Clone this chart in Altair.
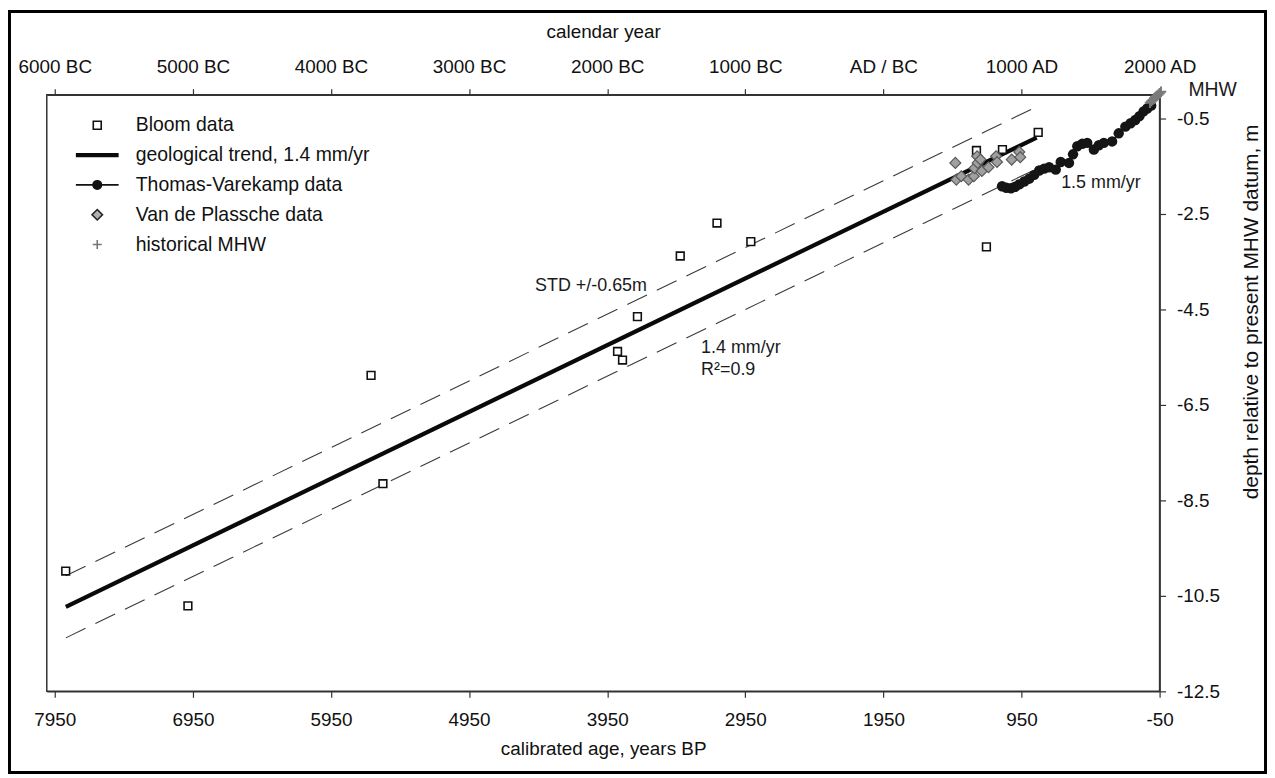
import altair as alt
import pandas as pd

FONT = "Liberation Sans"

# ---------------- data ----------------
bloom_bp = [7871, 6986, 5660, 5574, 3875, 3839, 3731, 3421, 3155, 2910, 1204, 1276, 1088, 829]
bloom_depth = [-9.98, -10.71, -5.88, -8.15, -5.38, -5.56, -4.65, -3.38, -2.69, -3.08, -3.19, -1.17, -1.15, -0.79]

trend_bp = [7870, 840]
trend_depth = [-10.73, -0.90]

std_bp = [7870, 810]
std_upper = [-10.08, -0.21]
std_lower = [-11.38, -1.51]

tv_bp = [1091, 1060, 1026, 996, 966, 930, 894, 858, 822, 786, 750, 702, 666, 606, 577, 546, 510, 474,
         426, 390, 354, 294, 246, 198, 160, 126, 96, 66, 40, 11]
tv_depth = [-1.92, -1.95, -1.96, -1.93, -1.88, -1.82, -1.76, -1.68, -1.59, -1.55, -1.52, -1.57, -1.41,
            -1.43, -1.25, -1.08, -1.03, -1.01, -1.15, -1.06, -1.01, -0.98, -0.81, -0.67, -0.60, -0.53,
            -0.45, -0.35, -0.29, -0.23]

vdp_bp = [1429, 1422, 1386, 1333, 1295, 1290, 1271, 1267, 1247, 1237, 1189, 1134, 1127, 1021, 966, 959]
vdp_depth = [-1.43, -1.78, -1.71, -1.78, -1.71, -1.54, -1.29, -1.43, -1.36, -1.60, -1.52, -1.29, -1.41,
             -1.36, -1.20, -1.31]

hist_bp = [20, 10, 0, -10, -20, -30, -40, -50, -60]
hist_depth = [-0.17, -0.14, -0.11, -0.08, -0.05, -0.03, 0.0, 0.03, 0.06]

ann_text = ["STD +/-0.65m", "1.4 mm/yr", "R\u00b2=0.9", "1.5 mm/yr"]
ann_bp = [4472, 3270, 3270, 663]
ann_depth = [-4.0, -5.31, -5.77, -1.85]

mhw_text = ["MHW"]
mhw_bp = [-50]
mhw_depth = [0.0]

bp_ticks = [7950, 6950, 5950, 4950, 3950, 2950, 1950, 950, -50]
cal_labels = ["6000 BC", "5000 BC", "4000 BC", "3000 BC", "2000 BC", "1000 BC", "AD / BC", "1000 AD", "2000 AD"]
depth_ticks = [-0.5, -2.5, -4.5, -6.5, -8.5, -10.5, -12.5]

series_names = ["Bloom data", "geological trend, 1.4 mm/yr", "Thomas-Varekamp data",
                "Van de Plassche data", "historical MHW"]
legend_shapes = [
    "M-0.8,-0.8H0.8V0.8H-0.8Z",
    "M-4.3,-0.42H4.3V0.42H-4.3Z",
    "M-4.3,0H4.3M-0.85,0A0.85,0.85,0,1,1,0.85,0A0.85,0.85,0,1,1,-0.85,0Z",
    "M0,-1.05L1.05,0L0,1.05L-1.05,0Z",
    "M-0.9,0H0.9M0,-0.9V0.9",
]
legend_fill = ["white", "#0a0a0a", "#111111", "#b0b0b0", "transparent"]
legend_stroke = ["#111111", "transparent", "#111111", "#222222", "#777777"]


# ---------------- helpers ----------------
def chain_expr(keys, vals, default):
    parts = [f"datum.value == {k} ? '{v}'" for k, v in zip(keys, vals)]
    return " : ".join(parts) + f" : {default}"


cal_expr = chain_expr(bp_ticks, cal_labels, "''")

x_scale = alt.Scale(domain=[-50, 8008], reverse=True, nice=False, zero=False)
y_scale = alt.Scale(domain=[-12.5, 0], nice=False, zero=False)

bottom_axis = alt.Axis(orient="bottom", values=bp_ticks, labelExpr="'' + datum.value",
                       title="calibrated age, years BP", labelPadding=13, titlePadding=11)
top_axis = alt.Axis(orient="top", values=bp_ticks, labelExpr=cal_expr, title="calendar year",
                    labelPadding=12, titlePadding=16)
right_axis = alt.Axis(orient="right", values=depth_ticks, labelExpr="'' + datum.value",
                      title="depth relative to present MHW datum, m", labelPadding=11,
                      titleFontSize=21, titleAngle=270, titleX=92, titleY=218,
                      titleAlign="center", titleBaseline="middle")


def X(axis=None):
    return alt.X("bp:Q", scale=x_scale, axis=axis)


def Y(axis=None):
    return alt.Y("depth:Q", scale=y_scale, axis=axis)


# ---------------- tables ----------------
df_std = pd.DataFrame({"bp": std_bp + std_bp, "depth": std_upper + std_lower,
                       "band": ["upper"] * len(std_bp) + ["lower"] * len(std_bp)})
df_trend = pd.DataFrame({"bp": trend_bp, "depth": trend_depth})
df_bloom = pd.DataFrame({"bp": bloom_bp, "depth": bloom_depth})
df_tv = pd.DataFrame({"bp": tv_bp, "depth": tv_depth, "order": list(range(len(tv_bp)))})
df_vdp = pd.DataFrame({"bp": vdp_bp, "depth": vdp_depth})
df_hist = pd.DataFrame({"bp": hist_bp, "depth": hist_depth})
df_ann = pd.DataFrame({"bp": ann_bp, "depth": ann_depth, "text": ann_text})
df_mhw = pd.DataFrame({"bp": mhw_bp, "depth": mhw_depth, "text": mhw_text})
df_legend = pd.DataFrame({"series": pd.Series([], dtype="object")})

# ---------------- layers ----------------
W, H = 1119, 600
PAD = {"left": 39, "top": 85, "right": 108, "bottom": 83}

border = alt.Chart(pd.DataFrame({"k": [0]})).mark_rect(
    fill="transparent", stroke="black", strokeWidth=3
).encode(
    x=alt.value(-PAD["left"] + 1.5), x2=alt.value(W + PAD["right"] - 1.5),
    y=alt.value(-PAD["top"] + 1.5), y2=alt.value(H + PAD["bottom"] - 1.5)
)

dashed = alt.Chart(df_std).mark_line(color="#3a3a3a", strokeWidth=1.1, strokeDash=[22, 11]).encode(
    x=X(bottom_axis), y=Y(right_axis), detail="band:N"
)

trend = alt.Chart(df_trend).mark_line(color="#0a0a0a", strokeWidth=4.2).encode(x=X(), y=Y())

bloom = alt.Chart(df_bloom).mark_point(
    shape="square", filled=True, fill="white", stroke="#111111", strokeWidth=1.6, size=60, opacity=1
).encode(x=X(), y=Y())

vdp = alt.Chart(df_vdp).mark_point(
    shape="diamond", filled=True, fill="#a0a0a0", stroke="#5a5a5a", strokeWidth=1.2, size=121, opacity=1
).encode(x=X(), y=Y())

tv_line = alt.Chart(df_tv).mark_line(color="#111111", strokeWidth=1.5).encode(x=X(), y=Y(), order="order:Q")

tv_pts = alt.Chart(df_tv).mark_point(
    shape="circle", filled=True, color="#151515", size=110, opacity=1
).encode(x=X(), y=Y())

hist = alt.Chart(df_hist).mark_point(
    shape="M-1,0H1M0,-1V1", filled=False, stroke="#7a7a7a", strokeWidth=2, size=110, opacity=1
).encode(x=X(), y=Y())

ann = alt.Chart(df_ann).mark_text(
    align="left", baseline="middle", font=FONT, fontSize=18, color="#1a1a1a"
).encode(x=X(top_axis), y=Y(), text="text:N")

mhw = alt.Chart(df_mhw).mark_text(
    align="left", baseline="middle", font=FONT, fontSize=19.5, color="#1a1a1a", dx=29, dy=-5
).encode(x=X(), y=Y(), text="text:N")


def make_legend():
    return alt.Legend(
        title=None, orient="none", legendX=41, legendY=21, labelOffset=29, rowPadding=9,
        symbolSize=100, symbolStrokeWidth=1.6, symbolFillColor="white", labelLimit=0,
        labelFontSize=19.5, labelFont=FONT, labelColor="#111111",
    )


legend_layer = alt.Chart(df_legend).mark_point(opacity=1, filled=False).encode(
    shape=alt.Shape("series:N", scale=alt.Scale(domain=series_names, range=legend_shapes),
                    legend=make_legend()),
    fill=alt.Fill("series:N", scale=alt.Scale(domain=series_names, range=legend_fill),
                  legend=make_legend()),
    stroke=alt.Stroke("series:N", scale=alt.Scale(domain=series_names, range=legend_stroke),
                      legend=make_legend()),
)

chart = alt.layer(
    border, dashed, trend, bloom, vdp, tv_line, tv_pts, hist, ann, mhw, legend_layer
).resolve_axis(
    x="independent", y="independent"
).properties(
    width=W, height=H, autosize=alt.AutoSizeParams(type="none"), padding=PAD
).configure_view(
    stroke="#333333", strokeWidth=1.5
).configure_axis(
    grid=False, labelFont=FONT, titleFont=FONT, labelFontSize=19, titleFontSize=19,
    titleFontWeight="normal", labelColor="#111111", titleColor="#111111",
    domainColor="#333333", tickColor="#333333", domainWidth=1.5, tickWidth=1.2, tickSize=6,
    labelOverlap=False, labelFlush=False
)

chart.save("out.html", embed_options={"renderer": "svg", "actions": False})
